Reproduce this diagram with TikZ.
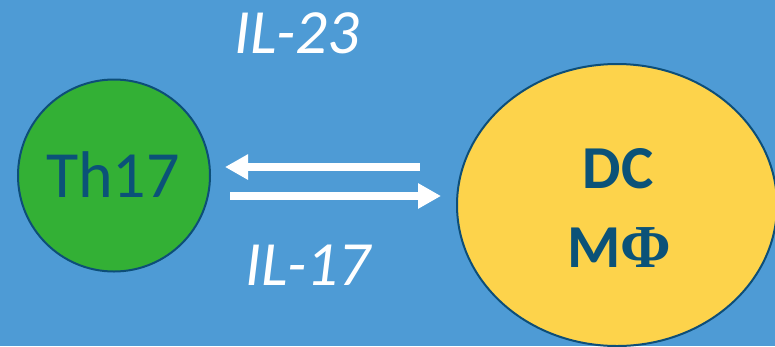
\documentclass[tikz,border=0pt]{standalone}
\usepackage{fontspec}
\setmainfont{Carlito}
\newfontfamily\phifont{Liberation Serif}
\usetikzlibrary{arrows.meta,shapes.geometric}
\definecolor{bgblue}{HTML}{4E9BD5}
\definecolor{cellgreen}{HTML}{33B035}
\definecolor{cellyellow}{HTML}{FDD34B}
\definecolor{edgeblue}{HTML}{0D4E78}
\definecolor{txtblue}{HTML}{0B5278}
\tikzset{
  cell/.style={draw=edgeblue, line width=2pt, inner sep=0pt},
  arr/.style={white, line width=8pt, -{Triangle[length=23pt,width=24pt]}},
  lbl/.style={white, anchor=base, inner sep=0pt, font=\fontsize{63}{63}\selectfont\itshape},
  celltxt/.style={text=txtblue, anchor=base, inner sep=0pt}
}
\begin{document}
\begin{tikzpicture}[x=1pt,y=-1pt]
\fill[bgblue] (0,0) rectangle (775,346);
\useasboundingbox (0,0) rectangle (775,346);
\node[cell, circle, fill=cellgreen, minimum size=192pt] (th) at (114,175.5) {};
\node[cell, ellipse, fill=cellyellow, minimum width=320pt, minimum height=282pt] (dc) at (617,205) {};
\node[celltxt, font=\fontsize{66}{66}\selectfont] (thtxt) at (113,197) {Th17};
\node[celltxt, font=\fontsize{61}{61}\selectfont\bfseries] (dctxt) at (618,188) {DC};
\node[celltxt, font=\fontsize{61}{61}\selectfont\bfseries] (mptxt) at (619,267) {M{\phifont Φ}};
\node[lbl] (il23) at (297,53) {IL-23};
\node[lbl] (il17) at (308,285) {IL-17};
\coordinate (t1) at (420,167);
\coordinate (h1) at (225,167);
\coordinate (t2) at (230,196);
\coordinate (h2) at (441,196);
\draw[arr] (t1) -- (h1);
\draw[arr] (t2) -- (h2);
\end{tikzpicture}
\end{document}
